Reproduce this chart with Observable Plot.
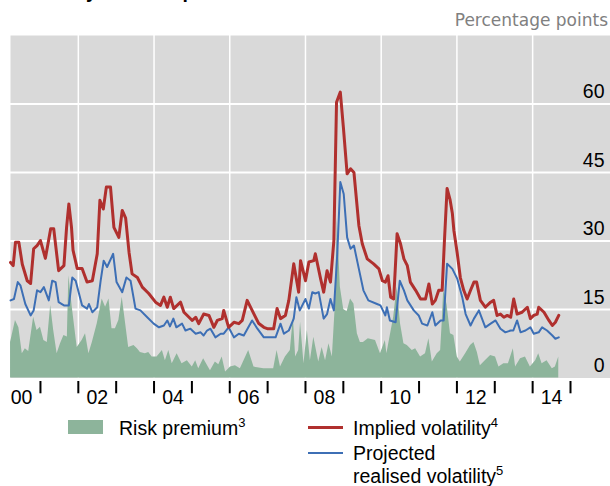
<!DOCTYPE html>
<html><head><meta charset="utf-8">
<script src="https://cdn.jsdelivr.net/npm/d3@7"></script>
<script src="https://cdn.jsdelivr.net/npm/@observablehq/plot@0.6"></script>
<style>
html,body{margin:0;padding:0;background:#fff;}
body{width:610px;height:486px;overflow:hidden;position:relative;font-family:"Liberation Sans",Arial,sans-serif;}
#chart{position:absolute;left:0;top:0;}
.title{position:absolute;left:17px;top:-18px;font-weight:bold;font-size:19.5px;line-height:19.5px;color:#000;white-space:nowrap;}
.unit{position:absolute;right:2px;top:12.3px;font-family:"DejaVu Sans",sans-serif;font-size:17px;line-height:17px;color:#808080;white-space:nowrap;}
.lg{position:absolute;font-size:19.5px;line-height:19.5px;color:#000;white-space:nowrap;}
.lg sup{font-size:13px;vertical-align:8px;line-height:0;}
.sw{position:absolute;}
</style></head><body>
<div id="chart"></div>
<div class="title">Volatility and risk premium</div>
<div class="unit">Percentage points</div>
<div class="sw" style="left:68px;top:420px;width:35px;height:14px;background:#8db49b"></div>
<div class="lg" style="left:119px;top:418.5px">Risk premium<sup>3</sup></div>
<div class="sw" style="left:308px;top:426px;width:35px;height:3px;background:#b0302e"></div>
<div class="lg" style="left:353px;top:418.5px">Implied volatility<sup>4</sup></div>
<div class="sw" style="left:308px;top:452px;width:35px;height:2px;background:#3d6fb5"></div>
<div class="lg" style="left:353px;top:443.5px">Projected</div>
<div class="lg" style="left:353px;top:466.5px">realised volatility<sup>5</sup></div>
<script>
// Implied volatility (percentage points)
const impliedDates = [2000.21,2000.28,2000.34,2000.43,2000.52,2000.65,2000.74,2000.82,2000.91,2001.00,2001.13,2001.27,2001.35,2001.48,2001.62,2001.69,2001.75,2001.82,2001.86,2001.97,2002.10,2002.23,2002.37,2002.50,2002.57,2002.66,2002.74,2002.85,2002.94,2003.07,2003.16,2003.25,2003.34,2003.42,2003.56,2003.69,2003.86,2004.04,2004.17,2004.26,2004.35,2004.43,2004.52,2004.70,2004.79,2005.01,2005.10,2005.18,2005.31,2005.45,2005.58,2005.67,2005.80,2005.84,2005.97,2006.11,2006.24,2006.33,2006.46,2006.64,2006.76,2006.90,2006.99,2007.16,2007.25,2007.34,2007.47,2007.56,2007.69,2007.82,2007.87,2008.00,2008.09,2008.22,2008.26,2008.40,2008.48,2008.57,2008.66,2008.75,2008.82,2008.92,2009.00,2009.10,2009.19,2009.28,2009.41,2009.50,2009.63,2009.80,2009.94,2010.03,2010.11,2010.18,2010.25,2010.33,2010.42,2010.51,2010.60,2010.69,2010.77,2010.91,2011.04,2011.17,2011.26,2011.35,2011.43,2011.52,2011.61,2011.67,2011.74,2011.82,2011.88,2011.92,2012.01,2012.09,2012.18,2012.27,2012.36,2012.45,2012.52,2012.62,2012.75,2012.89,2012.97,2013.06,2013.15,2013.24,2013.33,2013.42,2013.50,2013.59,2013.72,2013.86,2013.94,2014.03,2014.12,2014.16,2014.30,2014.43,2014.52,2014.60,2014.69];
const impliedValues = [25.3,24.6,29.7,29.7,24.9,21.3,20.7,28.3,29,30.1,26.2,32.7,32.7,23.5,24.6,33,38.1,33,28,24,24,21,21.3,27.2,38.9,37,41.8,41.8,33,30.8,36.7,35,27.5,22.8,22,19.9,18.5,16.6,15.9,17.7,15.5,17.7,15.2,16.6,14.4,12.6,13.3,11.9,14,13.7,11.1,12.6,13,14.8,11.1,12.2,11.9,12.6,17,14,12,11.1,10.8,10.8,15.2,13,13.7,17,25,18.8,25.7,21.3,25.4,25.7,27.2,21.7,18.8,23.5,21,30.1,60.4,62.6,55,44.7,45.8,45,33.4,29.4,26.1,25,23.9,21.3,21,22.4,17.7,17.3,31.6,29.4,26.1,24.6,21,19.2,17.3,17.3,20.6,16.2,17,19.2,19.2,30,41.5,39,36,32.3,27.2,22,19.2,17.3,19.2,21,21,17,15.5,16.6,17,13.7,14,13.3,13.7,13.3,17.3,14,14.4,15.5,13,13.7,14,15.5,14.4,12.6,11.5,12.2,13.7];

// Projected realised volatility
const realisedDates = [2000.21,2000.30,2000.40,2000.47,2000.60,2000.74,2000.82,2000.91,2001.00,2001.09,2001.22,2001.31,2001.40,2001.48,2001.62,2001.75,2001.84,2001.93,2002.10,2002.23,2002.28,2002.37,2002.50,2002.59,2002.67,2002.76,2002.92,2003.01,2003.16,2003.27,2003.38,2003.51,2003.64,2003.82,2003.99,2004.13,2004.26,2004.35,2004.42,2004.51,2004.59,2004.74,2004.83,2004.96,2005.10,2005.23,2005.31,2005.40,2005.49,2005.62,2005.76,2005.84,2005.97,2006.11,2006.24,2006.37,2006.59,2006.73,2006.90,2007.21,2007.34,2007.43,2007.56,2007.69,2007.76,2007.85,2008.00,2008.09,2008.18,2008.26,2008.35,2008.48,2008.57,2008.66,2008.75,2008.84,2008.92,2009.01,2009.10,2009.19,2009.28,2009.41,2009.53,2009.66,2009.89,2009.98,2010.11,2010.15,2010.23,2010.38,2010.49,2010.60,2010.69,2010.86,2010.99,2011.08,2011.22,2011.35,2011.43,2011.57,2011.65,2011.74,2011.88,2012.01,2012.14,2012.23,2012.36,2012.45,2012.58,2012.75,2012.89,2013.02,2013.15,2013.28,2013.42,2013.49,2013.59,2013.68,2013.81,2013.94,2014.03,2014.16,2014.25,2014.38,2014.52,2014.60,2014.69];
const realisedValues = [17,17.3,21,20.3,16.2,13.7,14.8,19.2,18.8,19.9,17,21.3,21,16.6,15.9,15.9,22,21.3,15.9,15.2,16.2,14.4,15.5,21.3,25.7,24.3,27.2,21,18.8,22,21.3,15.2,14.8,13.3,11.9,11.1,11.5,12.6,11.3,13,11.1,11.9,10.4,10.8,9.7,10,9.3,10.4,10.8,8.9,9.7,9.7,11.1,8.9,9.7,9.3,12.6,10.8,8.9,8.9,11.9,9.7,10.4,13,17.7,14.8,17.3,15.2,18.8,18.5,18.8,13,14,17.3,14.8,27.2,42.9,40.3,30.8,28.3,29,23.9,19.2,17,16.2,15.9,13.7,15.5,12.6,12.2,21.3,19.2,17,14.8,13.7,11.9,11.5,14.4,11.5,12.6,12.6,25,23.9,21.7,17.7,14,11.5,13,14.8,11.1,11.9,12.6,10.8,10,10.4,10.4,12.6,10,10.4,11.1,9.7,10,11.1,10.4,9.3,8.6,8.9];

// Risk premium
const premiumDates = [2000.21,2000.34,2000.43,2000.52,2000.60,2000.69,2000.82,2000.91,2001.00,2001.09,2001.18,2001.27,2001.35,2001.44,2001.53,2001.62,2001.71,2001.75,2001.84,2001.97,2002.10,2002.19,2002.28,2002.37,2002.50,2002.63,2002.72,2002.81,2002.89,2002.98,2003.07,2003.16,2003.25,2003.33,2003.47,2003.56,2003.64,2003.77,2003.86,2003.95,2004.08,2004.22,2004.30,2004.39,2004.48,2004.61,2004.74,2004.88,2005.01,2005.10,2005.18,2005.31,2005.49,2005.62,2005.71,2005.80,2005.89,2006.02,2006.15,2006.28,2006.50,2006.64,2006.90,2007.16,2007.25,2007.34,2007.47,2007.60,2007.68,2007.74,2007.82,2007.87,2007.96,2008.05,2008.13,2008.22,2008.35,2008.44,2008.53,2008.62,2008.71,2008.79,2008.84,2008.92,2009.01,2009.10,2009.19,2009.28,2009.37,2009.45,2009.53,2009.66,2009.85,2009.98,2010.11,2010.15,2010.33,2010.42,2010.51,2010.60,2010.69,2010.82,2010.91,2011.04,2011.17,2011.26,2011.35,2011.48,2011.57,2011.61,2011.65,2011.74,2011.83,2011.92,2012.01,2012.09,2012.23,2012.36,2012.45,2012.54,2012.62,2012.75,2012.89,2013.02,2013.11,2013.24,2013.36,2013.49,2013.55,2013.68,2013.81,2013.94,2014.08,2014.16,2014.25,2014.38,2014.52,2014.60,2014.69];
const premiumValues = [7.8,12.6,11,5.3,6.4,5.8,13.3,10.4,11.1,8.2,7.8,15.9,10.4,5.3,7.5,9.3,9,22.4,15.5,6.7,8.2,9.7,5.3,7.8,11.9,17.3,15.5,17.3,10.8,10.8,12.6,17.7,11.9,6.7,7.1,6.4,5.6,5.3,5.6,4.6,4.6,6,3.8,6,3.1,5.3,3.1,3.8,2.4,3.8,2,4.2,1.6,3.5,2.9,4.6,1.3,2.4,2.7,2,6,2.4,2,2,6,2.4,4.6,6,13.3,4.6,6,12.2,3.1,10.4,3.8,8.9,3.5,6.7,3.8,7.5,4.6,16.2,35,20,15,14.5,17.3,16.2,9.7,7.8,7.8,8.6,8.2,5.3,8.2,5.3,13.3,19.9,11.9,7.5,7.1,6,6.4,4.6,5.3,8.6,3.5,5.3,6,11.9,19.2,16,9.7,9.3,4.6,3.5,5.3,7.1,7.8,5.6,2.7,3.8,4.9,4.6,2.4,3.1,3.1,6.4,2.4,4.2,4.6,2.4,3.8,5.3,3.1,3.8,2,2.4,4.6];

const yTicks = [0, 15, 30, 45, 60];
const gridYears = [2002, 2004, 2006, 2008, 2010, 2012, 2014];
const tickYears = [2001,2002,2003,2004,2005,2006,2007,2008,2009,2010,2011,2012,2013,2014,2015];
const xTickLabels = ["00","02","04","06","08","10","12","14"];

const toRows = (dates, values) => dates.map((d, i) => ({date: d, value: values[i]}));
const implied = toRows(impliedDates, impliedValues);
const realised = toRows(realisedDates, realisedValues);
const premium = toRows(premiumDates, premiumValues);
const labels = xTickLabels.map(s => ({pos: 2000 + Number(s) + 0.5, label: s}));
const ticks = tickYears.map(t => ({pos: t}));

const RED = "#b0302e", BLUE = "#3d6fb5", GREEN = "#8db49b";

const chart = Plot.plot({
  width: 610,
  height: 410,
  marginLeft: 10,
  marginRight: 0,
  marginTop: 35,
  marginBottom: 32.5,
  style: {fontFamily: "'Liberation Sans', Arial, sans-serif", fontSize: "19.5px", color: "#000", background: "transparent", overflow: "visible"},
  x: {type: "linear", domain: [2000.2087, 2016.0565], axis: null},
  y: {domain: [0, 75], axis: null},
  marks: [
    Plot.frame({fill: "#d9d9d9", stroke: null}),
    Plot.ruleX(gridYears, {stroke: "#ffffff", strokeWidth: 1.5}),
    Plot.ruleY(yTicks.filter(d => d > 0), {stroke: "#ffffff", strokeWidth: 2}),
    Plot.areaY(premium, {x: "date", y: "value", fill: GREEN}),
    Plot.line(realised, {x: "date", y: "value", stroke: BLUE, strokeWidth: 2}),
    Plot.line(implied, {x: "date", y: "value", stroke: RED, strokeWidth: 3}),
    Plot.text(yTicks, {y: d => d, text: d => String(d), frameAnchor: "right", textAnchor: "end", lineAnchor: "bottom", dx: -6, dy: -6, fontSize: 19.5, fill: "#000"}),
    // small year-boundary ticks hanging just below the plot area
    Plot.tickX(ticks, {x: "pos", stroke: "#000000", strokeWidth: 2, insetTop: 346, insetBottom: -15.8}),
    Plot.text(labels, {x: "pos", text: "label", frameAnchor: "bottom", lineAnchor: "top", dy: 12, fontSize: 19.5, fill: "#000"})
  ]
});
document.getElementById("chart").appendChild(chart);
</script>
</body></html>
